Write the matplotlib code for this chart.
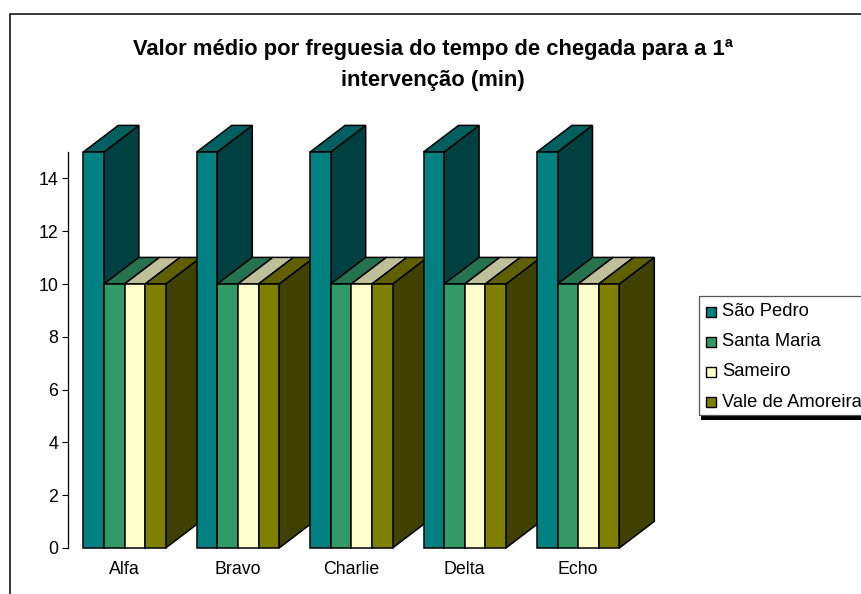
import matplotlib
matplotlib.use("Agg")
import matplotlib.pyplot as plt
from matplotlib.patches import Polygon, Rectangle

plt.rcParams['font.family'] = ['Liberation Sans', 'DejaVu Sans']

categories = ["Alfa", "Bravo", "Charlie", "Delta", "Echo"]
sao_pedro = [15, 15, 15, 15, 15]
santa_maria = [10, 10, 10, 10, 10]
sameiro = [10, 10, 10, 10, 10]
vale_amoreira = [10, 10, 10, 10, 10]
series_names = ["São Pedro", "Santa Maria", "Sameiro", "Vale de Amoreira"]
series_values = [sao_pedro, santa_maria, sameiro, vale_amoreira]
front_colors = ["#008080", "#339966", "#FFFFCC", "#808000"]
top_colors = ["#006060", "#267350", "#BFBF99", "#606000"]
side_colors = ["#004040", "#1A4D33", "#808066", "#404000"]
yticks = [0, 2, 4, 6, 8, 10, 12, 14]
title_lines = ["Valor médio por freguesia do tempo de chegada para a 1ª", "intervenção (min)"]

W, H = 861, 594
fig = plt.figure(figsize=(W / 100, H / 100), dpi=100)
fig.patch.set_facecolor("white")

# chart frame (its right and bottom sides fall outside the picture)
fig.add_artist(Rectangle((9.5 / W, -0.1), 1.2, 1.1 - 14.5 / H, transform=fig.transFigure,
                         fill=False, ec="black", lw=1.1))

x0, x1, ytop, ybot = 67.5, 660.0, 152.0, 548.0
ax = fig.add_axes([x0 / W, 1 - ybot / H, (x1 - x0) / W, (ybot - ytop) / H])
group_px = 113.4
ax.set_xlim(0, (x1 - x0) / group_px)
ax.set_ylim(0, 15)
ax.patch.set_alpha(0)
for s in ("top", "right", "bottom"):
    ax.spines[s].set_visible(False)
ax.spines["left"].set_linewidth(0.9)

bar_w = 20.6 / group_px
first = (83.3 - x0) / group_px
dx = 35.0 / group_px
dy = 26.6 / ((ybot - ytop) / 15)

order = 2.0
for g in range(len(categories)):
    for i, vals in enumerate(series_values):
        v = vals[g]
        left = first + g + i * bar_w
        right = left + bar_w
        kw = dict(closed=True, ec="black", lw=1.1, clip_on=False)
        ax.add_patch(Polygon([(right, 0), (right + dx, dy), (right + dx, v + dy), (right, v)],
                             fc=side_colors[i], zorder=order, **kw))
        ax.add_patch(Polygon([(left, v), (right, v), (right + dx, v + dy), (left + dx, v + dy)],
                             fc=top_colors[i], zorder=order, **kw))
        ax.bar(left, v, width=bar_w, align="edge", color=front_colors[i],
               edgecolor="black", linewidth=1.1, clip_on=False, zorder=order + 0.001)
        order += 0.01

ax.set_xticks([first + g + 2 * bar_w for g in range(len(categories))])
ax.set_xticklabels(categories, fontsize=12.8)
ax.tick_params(axis="x", length=0, pad=9.7)
ax.set_yticks(yticks)
ax.tick_params(axis="y", length=4, width=0.8, direction="out", labelsize=12.8, pad=2.5)

for line, yc in zip(title_lines, (49.5, 80.5)):
    fig.text(433 / W, 1 - yc / H, line, ha="center", va="center",
             fontsize=15.8, fontweight="bold")

# legend drawn by hand so it can run off the right edge like the reference
fig.add_artist(Rectangle((701 / W, 1 - 419.5 / H), 200 / W, 120 / H, transform=fig.transFigure,
                         fc="black", ec="none"))
fig.add_artist(Rectangle((699 / W, 1 - 415 / H), 200 / W, 119 / H, transform=fig.transFigure,
                         fc="white", ec="#555555", lw=0.9))
for i, name in enumerate(series_names):
    yc = 311.5 + i * 30.2
    fig.add_artist(Rectangle((706 / W, 1 - (yc + 5) / H), 10 / W, 10 / H, transform=fig.transFigure,
                             fc=front_colors[i], ec="black", lw=1.0))
    fig.text(722 / W, 1 - yc / H, name, ha="left", va="center", fontsize=13.2)

fig.savefig("out.png", dpi=100)
